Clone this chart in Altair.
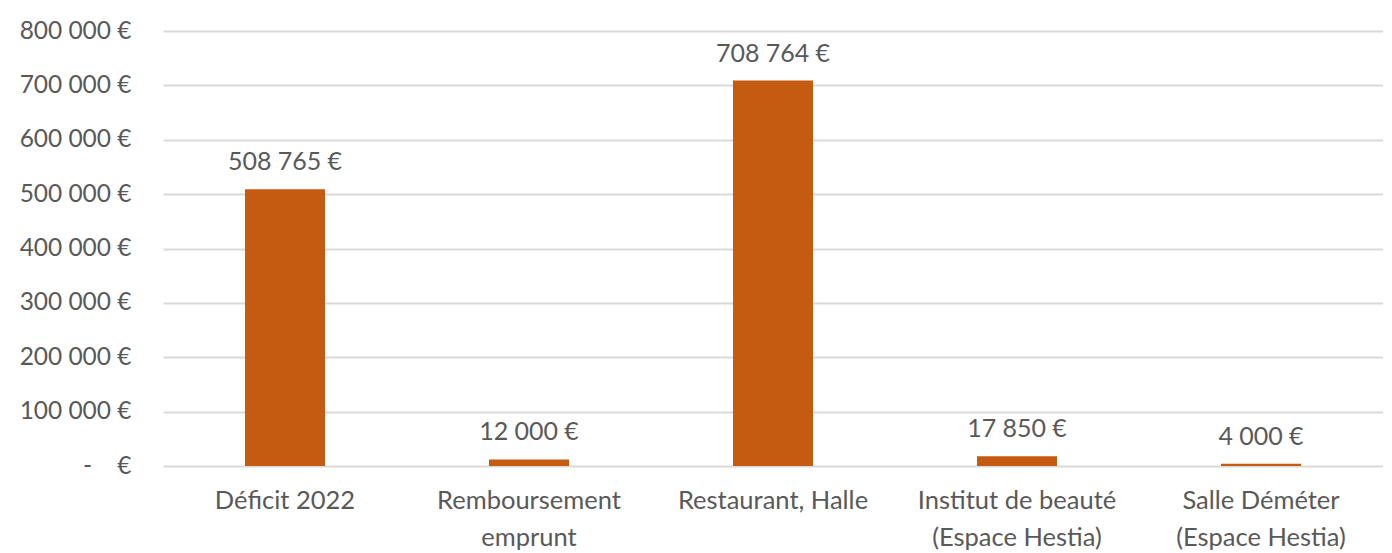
import altair as alt
import pandas as pd

categories = ["Déficit 2022", "Remboursement\nemprunt", "Restaurant, Halle",
              "Institut de beauté\n(Espace Hestia)", "Salle Déméter\n(Espace Hestia)"]
values = [508765, 12000, 708764, 17850, 4000]
labels = [f"{v:,}".replace(",", "\u202f") + " €" for v in values]

df = pd.DataFrame({"cat": categories, "val": values, "lab": labels})
order = categories

FONT = "Lato"
GREY = "#595959"

base = alt.Chart(df).encode(
    x=alt.X("cat:N", sort=order, title=None,
            scale=alt.Scale(paddingInner=0, paddingOuter=0),
            axis=alt.Axis(labelAngle=0, labelFont=FONT, labelFontSize=25.5, labelColor=GREY,
                          labelPadding=22, labelLineHeight=37, labelLimit=0,
                          domain=False, ticks=False,
                          labelExpr="split(datum.label, '\\n')")),
)

bars = base.mark_bar(color="#C55A11", size=80).encode(
    y=alt.Y("val:Q", title=None,
            scale=alt.Scale(domain=[0, 800000], nice=False),
            axis=alt.Axis(values=[0, 100000, 200000, 300000, 400000, 500000, 600000, 700000, 800000],
                          labelExpr="datum.value == 0 ? '-\u00a0\u00a0\u00a0\u00a0€' : (datum.value/1000) + '\u202f000 €'",
                          labelFont=FONT, labelFontSize=24.5, labelColor=GREY, labelPadding=32,
                          domain=False, ticks=False, gridColor="#d9d9d9", gridWidth=2)),
)

text = base.mark_text(font=FONT, fontSize=25, color=GREY, baseline="bottom", dy=-14).encode(
    y=alt.Y("val:Q"),
    text="lab:N",
)

chart = (bars + text).properties(
    width=1220, height=435,
    autosize=alt.AutoSizeParams(type="none"),
    padding={"left": 155, "top": 23, "right": 0, "bottom": 84},
).configure_view(stroke=None)

chart.save("out.html", embed_options={"renderer": "svg", "actions": False})
